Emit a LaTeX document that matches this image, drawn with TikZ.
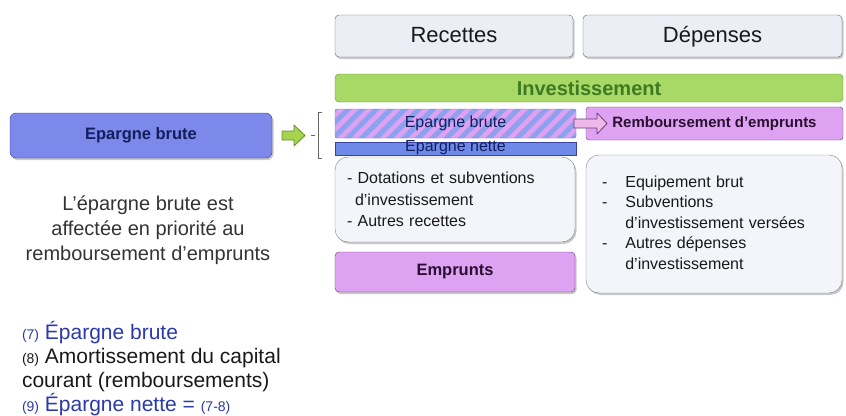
\documentclass[tikz,border=0pt]{standalone}
\usepackage{fontspec}
\setmainfont{Liberation Sans}
\usetikzlibrary{arrows.meta, positioning, calc, patterns.meta, shadows}

\definecolor{headfill}{HTML}{ECEEF6}
\definecolor{headline}{HTML}{5A5E66}
\definecolor{invfill}{HTML}{A8D866}
\definecolor{invline}{HTML}{5E8E34}
\definecolor{invtext}{HTML}{3E7A22}
\definecolor{ebfill}{HTML}{7C88EA}
\definecolor{ebline}{HTML}{3A44A0}
\definecolor{ebtext}{HTML}{141E5E}
\definecolor{netfill}{HTML}{6E8AE8}
\definecolor{stripepink}{HTML}{DFA2F0}
\definecolor{stripeblue}{HTML}{8EA0F0}
\definecolor{remfill}{HTML}{DDA2F2}
\definecolor{remline}{HTML}{6C3C72}
\definecolor{remtext}{HTML}{2A1030}
\definecolor{boxfill}{HTML}{F3F5FA}
\definecolor{boxline}{HTML}{7A7E86}
\definecolor{legblue}{HTML}{2B3AA8}
\definecolor{notetext}{HTML}{333333}
\definecolor{garrowfill}{HTML}{A6D44E}
\definecolor{parrowfill}{HTML}{F0B8EA}

\newcommand{\legnum}[1]{{\fontsize{14}{14}\selectfont#1}}

\begin{document}
\begin{tikzpicture}[
        x=1pt, y=-1pt,
        every node/.style={outer sep=0pt},
        shade/.style={drop shadow={shadow xshift=1.5pt, shadow yshift=-2pt, opacity=.3, fill=black!70}},
        head/.style={draw=headline, fill=headfill, rounded corners=4pt, shade, minimum width=238pt, minimum height=42pt, text height=16pt, text depth=4pt, font=\fontsize{22}{26}\selectfont, text=black!90},
        inv/.style={draw=invline, fill=invfill, rounded corners=4pt, minimum width=508pt, minimum height=28pt, inner ysep=0pt, font=\bfseries\fontsize{20}{24}\selectfont, text=invtext},
        hatch/.style={draw=ebline!70, preaction={fill=stripepink}, pattern={Lines[angle=45, distance=10pt, line width=5pt]}, pattern color=stripeblue, rounded corners=2pt, minimum width=241pt, minimum height=29pt, inner ysep=0pt, font=\fontsize{16}{19}\selectfont, text=ebtext},
        bar/.style={draw=ebline, fill=netfill, minimum width=241pt, minimum height=13pt, inner ysep=0pt, text height=9pt, text depth=3pt, font=\fontsize{16}{19}\selectfont, text=ebtext},
        rem/.style={draw=remline, fill=remfill, rounded corners=3pt, minimum width=257pt, minimum height=33pt, font=\bfseries\fontsize{15}{18}\selectfont, text=remtext},
        cbox/.style={draw=boxline, fill=boxfill, rounded corners=13pt, shade, align=left, font=\fontsize{16}{21.5}\selectfont, text=black!90},
        emp/.style={draw=remline, fill=remfill, rounded corners=4pt, shade, minimum width=240pt, minimum height=40pt, font=\bfseries\fontsize{16.5}{20}\selectfont, text=remtext},
        eb/.style={draw=ebline, fill=ebfill, rounded corners=6pt, shade, minimum width=262pt, minimum height=45pt, font=\bfseries\fontsize{16.5}{20}\selectfont, text=ebtext},
        note/.style={align=center, font=\fontsize{20}{25}\selectfont, text=notetext},
        legend/.style={align=left, font=\fontsize{21}{24}\selectfont, text=black!90, inner sep=0pt},
        blockarrow/.style={line width=0.8pt, line join=round},
        brk/.style={draw=black!60, line width=0.8pt}
    ]
        \useasboundingbox (0,0) rectangle (846,415);

        \node[head] (rec) at (454,36) {Recettes};
        \node[head, minimum width=259pt] (dep) at (712.5,36) {Dépenses};

        \node[inv] (inv) at (589,88) {Investissement};

        \node[hatch] (brute) at (455.5,123.5) {Epargne brute};
        \node[bar] (nette) at (455.5,148.5) {Epargne nette};
        \node[rem] (remb) at (714.5,123.5) {Remboursement d'emprunts};

        \node[cbox, minimum width=240pt, minimum height=85pt, text width=216pt, inner xsep=12pt] (recc) at (455,199.5)
            {- Dotations et subventions\\\hspace*{8pt}d'investissement\\- Autres recettes};
        \node[emp] (emp) at (455,272) {Emprunts};

        \node[cbox, minimum width=256pt, minimum height=138pt, text width=224pt, inner xsep=16pt, font=\fontsize{16}{20.5}\selectfont] (depc) at (714,224)
            {\begin{tabular}{@{}l@{\hspace{18pt}}l@{}}
                -&Equipement brut\\
                -&Subventions\\
                 &d'investissement versées\\
                -&Autres dépenses\\
                 &d'investissement
            \end{tabular}};

        \node[eb] (eb) at (141,135.5) {Epargne brute};
        \node[note] (note) at (148,230) {L'épargne brute est\\affectée en priorité au\\remboursement d'emprunts};

        \node[legend, anchor=west] (leg) at (22,369)
            {{\color{legblue}\legnum{(7)} Épargne brute}\\
             \legnum{(8)} Amortissement du capital\\
             courant (remboursements)\\
             {\color{legblue}\legnum{(9)} Épargne nette = \legnum{(7-8)}}};

        % bracket in front of the two savings bars
        \coordinate (br) at (318,135);
        \draw[brk] ($(br)+(4,-23)$) -- ++(-4,0) -- ++(0,46) -- ++(4,0);
        \draw[brk] ($(br)+(-7,0)$) -- ++(4,0);

        % block arrows
        \draw[blockarrow, draw=invline, fill=garrowfill] ($(eb.east)+(10,-4.5)$) -- ++(12,0) -- ++(0,-6) -- ++(11,10.5) -- ++(-11,10.5) -- ++(0,-6) -- ++(-12,0) -- cycle;
        \draw[blockarrow, draw=remline, fill=parrowfill] ($(brute.east)+(-2,-4.5)$) -- ++(23,0) -- ++(0,-6) -- ++(10,10.5) -- ++(-10,10.5) -- ++(0,-6) -- ++(-23,0) -- cycle;
    \end{tikzpicture}
\end{document}
